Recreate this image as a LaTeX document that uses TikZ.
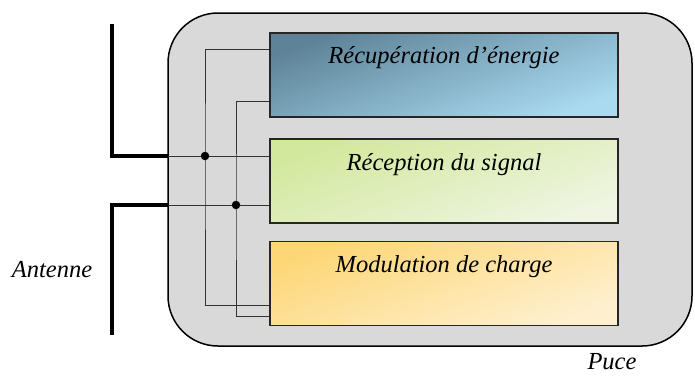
\documentclass[tikz,border=0pt]{standalone}
\usepackage{fontspec}
\setmainfont{Liberation Serif}
\definecolor{chipfill}{HTML}{D9D9D9}
\definecolor{blueA}{HTML}{5E8398}
\definecolor{blueB}{HTML}{A9DAF0}
\definecolor{greenA}{HTML}{D2E89C}
\definecolor{greenB}{HTML}{EFF5E2}
\definecolor{orangeA}{HTML}{FDD676}
\definecolor{orangeB}{HTML}{FEF0CF}
\definecolor{wire}{HTML}{333333}
\tikzset{
  blk/.style={draw=black!85, line width=1.5pt, minimum width=348pt, minimum height=84pt,
    inner sep=0pt},
  grad/.style 2 args={top color=#1, bottom color=#2, shading angle=20},
  lbl/.style={font=\fontsize{24.5}{28}\selectfont\itshape, inner sep=0pt, anchor=center},
  antline/.style={line width=4pt, black},
  thin/.style={line width=1pt, wire},
  junction/.style={circle, fill=black, inner sep=0pt, minimum size=8.5pt}
}
\begin{document}
\begin{tikzpicture}[x=1pt, y=-1pt]
\useasboundingbox (0,0) rectangle (695,376);
% chip outline
\draw[fill=chipfill, line width=1.5pt, rounded corners=50pt] (168,13) rectangle (692,346);
% functional blocks
\node[blk, grad={blueA}{blueB}] (nrg) at (444,75) {};
\node[blk, grad={greenA}{greenB}] (rx) at (444,181) {};
\node[blk, grad={orangeA}{orangeB}] (mod) at (444,283.5) {};
\node[lbl] at ([yshift=-25pt]nrg.north) {Récupération d’énergie};
\node[lbl] at ([yshift=-26pt]rx.north) {Réception du signal};
\node[lbl] at ([yshift=-26pt]mod.north) {Modulation de charge};
% antenna terminals
\coordinate (a1) at (112,24);
\coordinate (a1c) at (112,156);
\coordinate (p1) at (168,156);
\coordinate (a2) at (112,335);
\coordinate (a2c) at (112,205);
\coordinate (p2) at (168,205);
\draw[antline] (a1) -- (a1c) -- (p1);
\draw[antline] (a2) -- (a2c) -- (p2);
% internal bus
\coordinate (j1) at (205,156);
\coordinate (j2) at (236,205);
\draw[thin] (p1) -- (rx.west |- p1);
\draw[thin] (p2) -- (rx.west |- p2);
\draw[thin] ([yshift=26pt]nrg.west) -| (j1) |- ([yshift=-21.5pt]mod.west);
\draw[thin] ([yshift=-26pt]nrg.west) -| (j2) |- ([yshift=-32.5pt]mod.west);
\node[junction] at (j1) {};
\node[junction] at (j2) {};
% captions
\node[lbl] (ant) at (52,270) {Antenne};
\node[lbl] (chip) at (612,362) {Puce};
\end{tikzpicture}
\end{document}
